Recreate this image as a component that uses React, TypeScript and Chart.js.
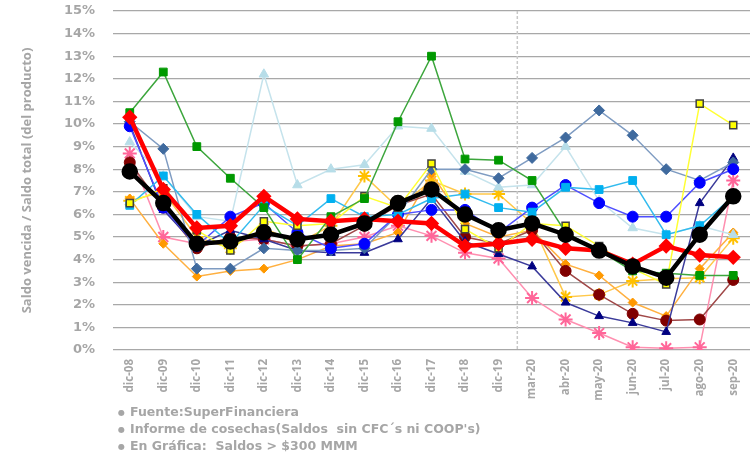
import React, { useEffect, useRef } from "react";
import { Chart, registerables } from "chart.js";

Chart.register(...registerables);

const categories = [
  "dic-08", "dic-09", "dic-10", "dic-11", "dic-12", "dic-13", "dic-14", "dic-15", "dic-16", "dic-17", "dic-18", "dic-19",
  "mar-20", "abr-20", "may-20", "jun-20", "jul-20", "ago-20", "sep-20",
];

const yTicks = [0, 1, 2, 3, 4, 5, 6, 7, 8, 9, 10, 11, 12, 13, 14, 15];

const blackSeries = [7.9, 6.5, 4.7, 4.8, 5.2, 4.9, 5.1, 5.6, 6.5, 7.1, 6.0, 5.3, 5.6, 5.1, 4.4, 3.7, 3.2, 5.1, 6.8];
const redSeries = [10.3, 7.1, 5.4, 5.5, 6.8, 5.8, 5.7, 5.8, 5.7, 5.6, 4.6, 4.7, 4.9, 4.5, 4.4, 3.8, 4.6, 4.2, 4.1];
const greenSeries = [10.5, 12.3, 9.0, 7.6, 6.3, 4.0, 5.9, 6.7, 10.1, 13.0, 8.45, 8.4, 7.5, 5.2, 4.4, 3.5, 3.4, 3.3, 3.3];
const lightBlueSeries = [9.2, 7.7, 5.9, 5.7, 12.2, 7.3, 8.0, 8.2, 9.9, 9.8, 7.9, 7.2, 7.3, 9.0, 6.6, 5.4, 5.1, 5.5, 5.1];
const steelSeries = [10.1, 8.9, 3.6, 3.6, 4.5, 4.4, 4.4, 4.5, 6.0, 8.0, 8.0, 7.6, 8.5, 9.4, 10.6, 9.5, 8.0, 7.5, 8.3];
const skyBlueSeries = [6.4, 7.7, 6.0, 4.7, 6.4, 5.5, 6.7, 5.9, 6.0, 6.7, 6.9, 6.3, 6.1, 7.2, 7.1, 7.5, 5.1, 5.5, 6.8];
const blueSeries = [9.9, 6.3, 4.6, 5.9, 6.5, 5.2, 4.5, 4.7, 6.0, 6.2, 6.2, 5.2, 6.3, 7.3, 6.5, 5.9, 5.9, 7.4, 8.0];
const navySeries = [10.0, 6.2, 4.6, 5.3, 4.9, 4.4, 4.3, 4.3, 4.9, 6.7, 4.8, 4.25, 3.7, 2.1, 1.5, 1.2, 0.8, 6.5, 8.5];
const maroonSeries = [8.3, 6.3, 4.5, 5.0, 4.9, 4.6, 4.7, 5.5, 6.4, 6.9, 5.0, 4.7, 5.3, 3.5, 2.45, 1.6, 1.3, 1.35, 3.1];
const orangeSeries = [6.7, 4.7, 3.25, 3.5, 3.6, 4.0, 4.6, 4.7, 5.2, 7.8, 5.6, 5.0, 5.3, 3.8, 3.3, 2.1, 1.5, 3.6, 5.2];
const goldSeries = [6.6, 7.0, 5.0, 4.5, 5.4, 4.7, 5.5, 7.7, 6.3, 7.5, 6.9, 6.9, 5.6, 2.35, 2.45, 3.05, 3.15, 3.2, 4.95];
const yellowSeries = [6.5, 7.15, 5.3, 4.4, 5.7, 5.5, 5.6, 6.8, 6.3, 8.25, 5.35, 4.5, 5.6, 5.5, 4.6, 3.6, 2.9, 10.9, 9.95];
const pinkSeries = [8.7, 5.0, 4.7, 4.8, 4.9, 4.6, 4.7, 5.0, 5.5, 5.05, 4.3, 4.05, 2.3, 1.35, 0.75, 0.12, 0.08, 0.12, 7.5];

const footnotes = [
  "Fuente:SuperFinanciera",
  "Informe de cosechas(Saldos  sin CFC´s ni COOP's)",
  "En Gráfica:  Saldos > $300 MMM",
];

const GRAY = "#A6A6A6";
const FONT = "'Open Sans', 'DejaVu Sans', sans-serif";
const WIDE = "'DejaVu Sans', 'Open Sans', sans-serif";

const dividerPlugin = {
  id: "divider",
  beforeDatasetsDraw(chart: any) {
    const x = chart.scales.x;
    const area = chart.chartArea;
    const px = (x.getPixelForValue(11) + x.getPixelForValue(12)) / 2 + 2;
    const ctx = chart.ctx;
    ctx.save();
    ctx.strokeStyle = "#C8C8C8";
    ctx.lineWidth = 1.5;
    ctx.setLineDash([3, 2]);
    ctx.beginPath();
    ctx.moveTo(px, area.top);
    ctx.lineTo(px, area.bottom);
    ctx.stroke();
    ctx.restore();
  },
};

function thin(label: string, data: number[], line: string, fill: string, style: string, radius: number, extra: any = {}) {
  return {
    label,
    data,
    borderColor: line,
    backgroundColor: fill,
    pointBackgroundColor: fill,
    pointBorderColor: fill,
    pointStyle: style,
    pointRadius: radius,
    borderWidth: 1.5,
    pointBorderWidth: 1,
    tension: 0,
    ...extra,
  };
}

export default function App() {
  const ref = useRef<HTMLCanvasElement>(null);

  useEffect(() => {
    if (!ref.current) return;
    const chart = new Chart(ref.current, {
      type: "line",
      data: {
        labels: categories,
        datasets: [
          {
            label: "Total",
            data: blackSeries,
            borderColor: "#000000",
            backgroundColor: "#000000",
            pointBackgroundColor: "#000000",
            pointBorderColor: "#000000",
            pointStyle: "circle",
            pointRadius: 6,
            borderWidth: 4.5,
          },
          {
            label: "Promedio",
            data: redSeries,
            borderColor: "#FF0000",
            backgroundColor: "#FF0000",
            pointBackgroundColor: "#FF0000",
            pointBorderColor: "#FF0000",
            pointStyle: "rectRot",
            pointRadius: 4.5,
            borderWidth: 4.5,
          },
          thin("Verde", greenSeries, "#3DA63D", "#009900", "rect", 5.5),
          thin("Amarillo", yellowSeries, "#FFFF33", "#FFFF00", "rect", 5, { pointBorderColor: "#404040", pointBorderWidth: 1.5 }),
          thin("Celeste", skyBlueSeries, "#33BBEE", "#00B0F0", "rect", 5.5),
          thin("Azul", blueSeries, "#5050FF", "#0000FF", "circle", 5.5),
          thin("Acero", steelSeries, "#7F9CC2", "#3F6A9E", "rectRot", 5.5),
          thin("Azul claro", lightBlueSeries, "#C5E3EC", "#B7DDE8", "triangle", 5.5),
          thin("Marino", navySeries, "#3A3A9A", "#000080", "triangle", 5),
          thin("Granate", maroonSeries, "#A04848", "#800000", "circle", 5.5),
          thin("Naranja", orangeSeries, "#FFB040", "#FF9900", "rectRot", 4.5),
          thin("Dorado", goldSeries, "#FFC84A", "#FFC000", "star", 6.5, { pointBorderWidth: 2 }),
          thin("Rosado", pinkSeries, "#FF8FB0", "#FF6699", "star", 7, { pointBorderWidth: 2 }),
        ],
      },
      options: {
        animation: false,
        responsive: false,
        maintainAspectRatio: false,
        layout: { autoPadding: false, padding: { top: 11, right: 0, left: 0, bottom: 0 } },
        plugins: {
          legend: { display: false },
          tooltip: { enabled: false },
        },
        scales: {
          x: {
            offset: true,
            grid: { display: false, drawTicks: false },
            border: { display: false },
            ticks: {
              autoSkip: false,
              maxRotation: 90,
              minRotation: 90,
              padding: 9,
              color: GRAY,
              font: { family: FONT, size: 11.5, weight: "bold" },
            },
            afterFit(scale: any) {
              scale.height = 103;
              scale.paddingLeft = 0;
              scale.paddingRight = 0;
            },
          },
          y: {
            min: 0,
            max: 15,
            afterBuildTicks(scale: any) {
              scale.ticks = yTicks.map((v) => ({ value: v }));
            },
            grid: { color: "#A8A8A8", lineWidth: 1.2, drawTicks: false },
            border: { display: false },
            ticks: {
              padding: 18,
              color: GRAY,
              font: { family: WIDE, size: 13, weight: "bold" },
              callback: (v: any) => `${v}%`,
            },
            title: {
              display: true,
              text: "Saldo vencida / Saldo total (del producto)",
              color: GRAY,
              font: { family: FONT, size: 13, weight: "bold" },
              padding: { top: 19, bottom: 0 },
            },
            afterFit(scale: any) {
              scale.width = 113;
              scale.paddingTop = 0;
              scale.paddingBottom = 0;
            },
          },
        },
      },
      plugins: [dividerPlugin],
    });
    return () => chart.destroy();
  }, []);

  return (
    <div style={{ position: "fixed", left: 0, top: 0, width: 750, height: 453, background: "#fff" }}>
      <canvas ref={ref} width={750} height={453} style={{ position: "absolute", left: 0, top: 0 }} />
      <div
        style={{
          position: "absolute",
          left: 118,
          top: 404,
          fontFamily: WIDE,
          fontWeight: "bold",
          fontSize: 12.5,
          lineHeight: "16px",
          color: GRAY,
          whiteSpace: "pre",
        }}
      >
        {footnotes.map((t) => (
          <div key={t}>
            <span style={{ fontSize: 8, verticalAlign: "1px", marginRight: 5 }}>●</span>
            {t}
          </div>
        ))}
      </div>
    </div>
  );
}
